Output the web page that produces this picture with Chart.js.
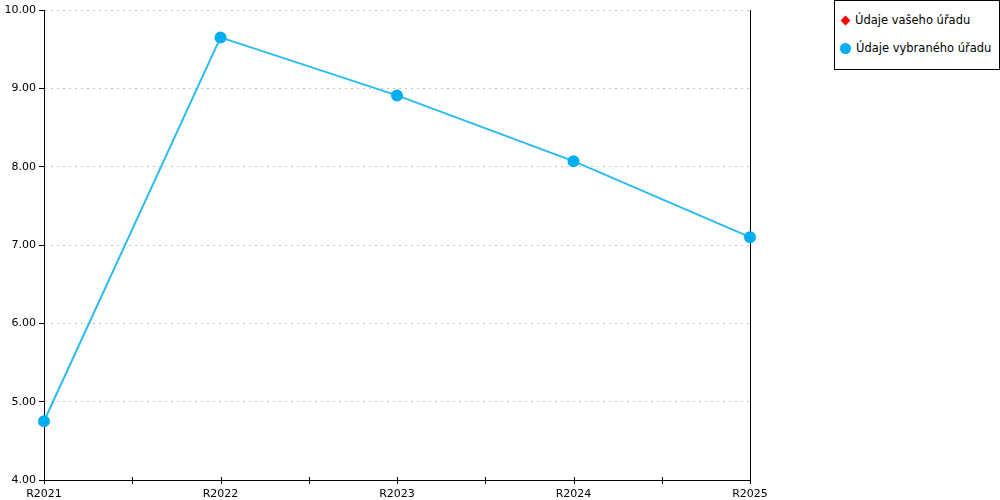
<!DOCTYPE html>
<html>
<head>
<meta charset="utf-8">
<script src="https://cdn.jsdelivr.net/npm/chart.js@4.4.1/dist/chart.umd.min.js"></script>
<style>
    html, body { margin: 0; padding: 0; background: #fff; }
    #wrap { position: relative; width: 1000px; height: 500px; }
    #legenda {
        position: absolute; left: 834px; top: 0; width: 166px; height: 70px;
        border: 1px solid #000; background: #fff; box-sizing: border-box;
        font: 11.5px "DejaVu Sans", sans-serif; color: #000;
    }
    #legenda div { position: absolute; left: 5px; white-space: nowrap; }
    #legenda i { display: inline-block; vertical-align: middle; margin-right: 5px; }
</style>
</head>
<body>
<div id="wrap">
    <canvas id="grafico" width="1000" height="500"></canvas>
    <div id="legenda"></div>
</div>
<script>
// dados
const kategorie = ["R2021", "R2022", "R2023", "R2024", "R2025"];
const udajeVasehoUradu = [null, null, null, null, null];
const udajeVybranehoUradu = [4.75, 9.65, 8.91, 8.07, 7.10];
const nazvySerii = ["Údaje vašeho úřadu", "Údaje vybraného úřadu"];
const yTicks = [4, 5, 6, 7, 8, 9, 10];

const FONT = { family: "'DejaVu Sans', sans-serif", size: 11 };

// ---------------------------------------------------------------
// tick marks that cross the x axis (major + midpoint)
// ---------------------------------------------------------------
const xTickMarks = {
    id: "xTickMarks",
    afterDraw(chart) {
        const x = chart.scales.x;
        const ctx = chart.ctx;
        const y = chart.chartArea.bottom;
        ctx.save();
        ctx.strokeStyle = "#000";
        ctx.lineWidth = 1;
        for (let i = 0; i < kategorie.length; i++) {
            const px = x.getPixelForValue(i);
            const pos = [px];
            if (i < kategorie.length - 1) pos.push((px + x.getPixelForValue(i + 1)) / 2);
            pos.forEach(p => {
                ctx.beginPath();
                ctx.moveTo(Math.round(p) + 0.5, y - 3);
                ctx.lineTo(Math.round(p) + 0.5, y + 4);
                ctx.stroke();
            });
        }
        ctx.restore();
    }
};

const chart = new Chart(document.getElementById("grafico"), {
    type: "line",
    data: {
        labels: kategorie,
        datasets: [
            {
                label: nazvySerii[0],
                data: udajeVasehoUradu,
                borderColor: "#ff0000",
                backgroundColor: "#ff0000",
                pointStyle: "rectRot",
                pointRadius: 5,
                borderWidth: 2
            },
            {
                label: nazvySerii[1],
                data: udajeVybranehoUradu,
                borderColor: "#2bbcef",
                backgroundColor: "#00aeef",
                pointBackgroundColor: "#00aeef",
                pointBorderColor: "#00aeef",
                pointStyle: "circle",
                pointRadius: 5,
                borderWidth: 2,
                tension: 0
            }
        ]
    },
    options: {
        responsive: false,
        animation: false,
        layout: { padding: { top: 10, right: 250, left: 0, bottom: 0 } },
        plugins: { legend: { display: false }, tooltip: { enabled: false } },
        scales: {
            x: {
                offset: false,
                grid: { display: false, drawTicks: false, tickLength: 0 },
                border: { display: true, color: "#000", width: 1 },
                ticks: { color: "#000", font: FONT, padding: 8, maxRotation: 0, autoSkip: false },
                afterFit: s => { s.height = 20; }
            },
            y: {
                min: 4,
                max: 10,
                afterBuildTicks: s => { s.ticks = yTicks.map(v => ({ value: v })); },
                grid: {
                    color: "#c4c4c4",
                    tickColor: "#000",
                    tickLength: 5,
                    tickBorderDash: []
                },
                border: { display: true, color: "#000", width: 1, dash: [2, 4] },
                ticks: {
                    color: "#000",
                    font: FONT,
                    padding: 3,
                    callback: v => Number(v).toFixed(2)
                },
                afterFit: s => { s.width = 44; }
            },
            y2: {
                position: "right",
                min: 4,
                max: 10,
                grid: { drawOnChartArea: false, drawTicks: false },
                border: { display: true, color: "#000", width: 1 },
                ticks: { display: false },
                afterFit: s => { s.width = 0; }
            }
        }
    },
    plugins: [xTickMarks]
});

// legenda (HTML)
const legenda = document.getElementById("legenda");
chart.data.datasets.forEach((ds, i) => {
    const radek = document.createElement("div");
    radek.style.top = (i === 0 ? 12 : 40) + "px";
    const ikona = document.createElement("i");
    if (ds.pointStyle === "rectRot") {
        ikona.style.cssText = "width:7px;height:7px;background:" + ds.backgroundColor + ";transform:rotate(45deg);margin-left:2px;margin-right:6px;";
    } else {
        ikona.style.cssText = "width:11px;height:11px;border-radius:50%;background:" + ds.backgroundColor + ";";
    }
    radek.appendChild(ikona);
    radek.appendChild(document.createTextNode(ds.label));
    legenda.appendChild(radek);
});
</script>
</body>
</html>
